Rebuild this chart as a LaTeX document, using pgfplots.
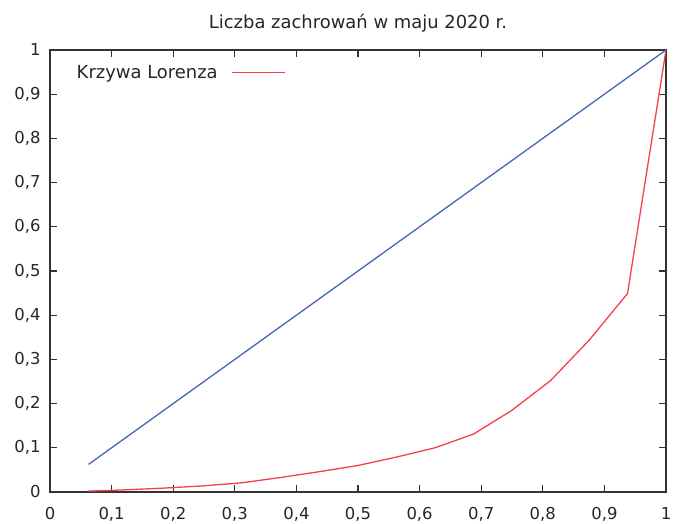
\documentclass[border=0pt]{standalone}
\usepackage{pgfplots}
\pgfplotsset{compat=1.18}
\usepackage{fontspec}
\setmainfont{DejaVu Sans}
\definecolor{lblue}{RGB}{70,100,180}
\definecolor{lred}{RGB}{242,65,75}
\begin{document}
\begin{tikzpicture}
\useasboundingbox (-50bp,-32bp) rectangle (625bp,492bp);
\begin{axis}[
  scale only axis, width=616bp, height=442bp,
  xmin=0, xmax=1, ymin=0, ymax=1,
  xtick={0,0.1,...,1.0}, ytick={0,0.1,...,1.0},
  xticklabels={0,{0,1},{0,2},{0,3},{0,4},{0,5},{0,6},{0,7},{0,8},{0,9},1},
  yticklabels={0,{0,1},{0,2},{0,3},{0,4},{0,5},{0,6},{0,7},{0,8},{0,9},1},
  tick align=inside, major tick length=7bp,
  tick style={line width=1.1pt, color=black!80},
  axis line style={line width=1.3pt, color=black!80},
  ticklabel style={font=\fontsize{16.5}{18}\selectfont, color=black!85},
  xticklabel style={yshift=-12bp},
  yticklabel style={xshift=-6bp},
  title={Liczba zachrowań w maju 2020 r.},
  title style={font=\fontsize{18}{20}\selectfont, color=black!85, yshift=8bp},
  legend plot pos=right,
  legend style={draw=none, fill=none, at={(rel axis cs:0.035,0.975)}, anchor=north west,
    font=\fontsize{18}{20}\selectfont, text=black!85},
  legend image code/.code={\path[draw=none,fill=none] (0bp,0bp) -- (2bp,0bp); \draw[#1] (12bp,0bp) -- (65bp,0bp);},
]
\addplot[lblue, line width=1.3pt, forget plot] coordinates {(0.0625,0.0625) (1,1)};
\addplot[lred, line width=1.3pt] coordinates {
(0.0625,0.002) (0.125,0.005) (0.1875,0.009) (0.25,0.014) (0.3125,0.021)
(0.375,0.033) (0.4375,0.046) (0.5,0.060) (0.5625,0.079) (0.625,0.100)
(0.6875,0.131) (0.75,0.185) (0.8125,0.252) (0.875,0.343) (0.9375,0.449) (1,1)};
\addlegendentry{Krzywa Lorenza}
\end{axis}
\end{tikzpicture}
\end{document}
